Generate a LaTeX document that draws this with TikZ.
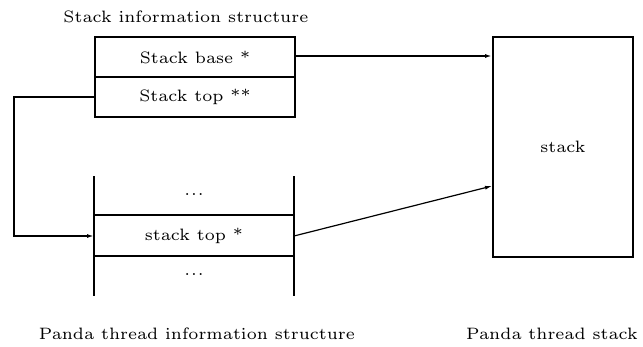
\documentclass[tikz,border=0pt]{standalone}
\usetikzlibrary{arrows.meta}
% small design-size Computer Modern, enlarged
\font\labelfont=cmr6 at 16.5pt
\newcommand\threedots{.\kern1pt.\kern1pt.}
\begin{document}
\begin{tikzpicture}[x=1pt,y=-1pt,
  lbl/.style={inner sep=0pt, font=\labelfont},
  thick line/.style={line width=2pt},
  heavy line/.style={line width=2.6pt},
  ptr/.style={-{Latex[length=7pt,width=4pt]}}]
\useasboundingbox (0,0) rectangle (643,346);
% stack information structure
\node[lbl] (title) at (186,17) {Stack information structure};
\node[draw, thick line, minimum width=200pt, minimum height=40pt, inner sep=0pt, anchor=north west] (base) at (94,36) {};
\node[draw, thick line, minimum width=200pt, minimum height=40pt, inner sep=0pt, anchor=north west] (top) at (94,76) {};
\node[lbl] at (base.center) {Stack base *};
\node[lbl] at (top.center) {Stack top **};
% the stack itself
\node[draw, thick line, minimum width=140pt, minimum height=220pt, inner sep=0pt, anchor=north west] (stack) at (492,36) {};
\node[lbl] at (stack.center) {stack};
% panda thread information structure
\coordinate (ltop) at (94,176);
\coordinate (lbot) at (94,296);
\coordinate (rtop) at (294,176);
\coordinate (rbot) at (294,296);
\draw[heavy line] (ltop) -- (lbot);
\draw[heavy line] (rtop) -- (rbot);
\draw[heavy line] (94,215) -- (294,215);
\draw[thick line] (94,256) -- (294,256);
\node[lbl] (dots1) at (194,195) {\threedots};
\node[lbl] (stop) at (194,236) {stack top *};
\node[lbl] (dots2) at (194,275) {\threedots};
\coordinate (stopL) at (94,236);
\coordinate (stopR) at (294,236);
% pointers
\coordinate (bend1) at (top.west -| 14,0);
\coordinate (bend2) at (bend1 |- stopL);
\draw[thick line, ptr] (base.east |- 0,56) -- (stack.west |- 0,56);
\draw[thick line, ptr, line join=miter] (top.west) -- (bend1) -- (bend2) -- (stopL);
\draw[line width=1.2pt, ptr] (stopR) -- (stack.west |- 0,186);
% captions
\node[lbl] (cap1) at (197,334) {Panda thread information structure};
\node[lbl] (cap2) at (552,334) {Panda thread stack};
\end{tikzpicture}
\end{document}
